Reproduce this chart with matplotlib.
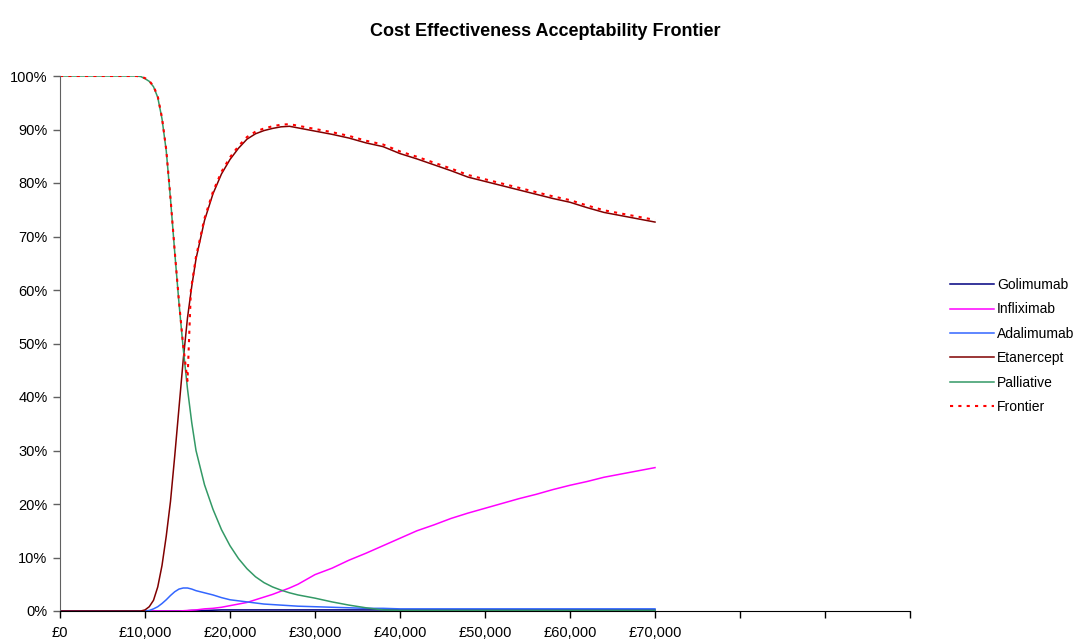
import matplotlib
matplotlib.use("Agg")
import matplotlib.pyplot as plt
from matplotlib.ticker import FuncFormatter

plt.rcParams['font.family'] = ['Liberation Sans', 'DejaVu Sans']

# Willingness-to-pay thresholds (£)
wtp = [0, 5000, 9000, 9500, 10000, 10500, 11000, 11500, 12000, 12500, 13000, 13500,
       14000, 14500, 15000, 15500, 16000, 17000, 18000, 19000, 20000, 21000, 22000,
       23000, 24000, 25000, 26000, 27000, 28000, 30000, 32000, 34000, 36000, 38000,
       40000, 42000, 44000, 46000, 48000, 50000, 52000, 54000, 56000, 58000, 60000,
       62000, 64000, 66000, 68000, 70000]

golimumab = [0, 0, 0, 0, 0, 0, 0, 0, 0, 0, 0, 0,
             0, 0, 0.0005, 0.001, 0.001, 0.001, 0.0015, 0.002, 0.002, 0.002, 0.002,
             0.002, 0.002, 0.002, 0.002, 0.002, 0.002, 0.002, 0.002, 0.002, 0.002, 0.002,
             0.002, 0.002, 0.002, 0.002, 0.002, 0.002, 0.002, 0.002, 0.002, 0.002, 0.002,
             0.002, 0.002, 0.002, 0.002, 0.002]

infliximab = [0, 0, 0, 0, 0, 0, 0, 0, 0, 0, 0, 0,
              0, 0.0005, 0.001, 0.0015, 0.002, 0.004, 0.005, 0.007, 0.010, 0.013, 0.016,
              0.021, 0.026, 0.031, 0.037, 0.043, 0.050, 0.068, 0.080, 0.095, 0.108, 0.122,
              0.136, 0.150, 0.161, 0.173, 0.183, 0.192, 0.201, 0.210, 0.218, 0.227, 0.235,
              0.242, 0.250, 0.256, 0.262, 0.268]

adalimumab = [0, 0, 0, 0, 0, 0.001, 0.004, 0.008, 0.014, 0.021, 0.029, 0.036,
              0.041, 0.043, 0.043, 0.041, 0.038, 0.034, 0.030, 0.025, 0.021, 0.019, 0.017,
              0.015, 0.013, 0.012, 0.011, 0.010, 0.009, 0.008, 0.007, 0.006, 0.005, 0.005,
              0.004, 0.004, 0.004, 0.004, 0.004, 0.004, 0.004, 0.004, 0.004, 0.004, 0.004,
              0.004, 0.004, 0.004, 0.004, 0.004]

etanercept = [0, 0, 0, 0, 0.002, 0.008, 0.020, 0.045, 0.085, 0.140, 0.205, 0.290,
              0.380, 0.470, 0.548, 0.607, 0.658, 0.730, 0.780, 0.817, 0.844, 0.865, 0.882,
              0.892, 0.898, 0.902, 0.905, 0.906, 0.903, 0.897, 0.891, 0.884, 0.875, 0.868,
              0.855, 0.845, 0.834, 0.823, 0.811, 0.803, 0.795, 0.787, 0.779, 0.771, 0.764,
              0.754, 0.745, 0.739, 0.733, 0.727]

palliative = [1.0, 1.0, 1.0, 0.999, 0.995, 0.990, 0.980, 0.960, 0.920, 0.860, 0.770, 0.670,
              0.575, 0.490, 0.415, 0.352, 0.300, 0.236, 0.190, 0.152, 0.122, 0.098, 0.079,
              0.064, 0.053, 0.045, 0.039, 0.034, 0.030, 0.024, 0.017, 0.011, 0.006, 0.002,
              0.001, 0.001, 0.001, 0.001, 0.001, 0.001, 0.001, 0.001, 0.001, 0.001, 0.001,
              0.001, 0.001, 0.001, 0.001, 0.001]

frontier_wtp = [0, 5000, 9000, 9500, 10000, 10500, 11000, 11500, 12000, 12500, 13000, 13500,
                14000, 14500, 15000, 15400, 16000, 17000, 18000, 19000, 20000, 21000, 22000,
                23000, 24000, 25000, 26000, 27000, 28000, 30000, 32000, 34000, 36000, 38000,
                40000, 42000, 44000, 46000, 48000, 50000, 52000, 54000, 56000, 58000, 60000,
                62000, 64000, 66000, 68000, 70000]
frontier = [1.0, 1.0, 1.0, 0.999, 0.996, 0.991, 0.981, 0.962, 0.922, 0.862, 0.772, 0.672,
            0.578, 0.495, 0.430, 0.600, 0.662, 0.734, 0.784, 0.821, 0.848, 0.869, 0.886,
            0.896, 0.902, 0.906, 0.909, 0.910, 0.907, 0.901, 0.895, 0.888, 0.879, 0.872,
            0.859, 0.849, 0.838, 0.827, 0.815, 0.807, 0.799, 0.791, 0.783, 0.775, 0.768,
            0.758, 0.749, 0.743, 0.737, 0.731]

series_names = ['Golimumab', 'Infliximab', 'Adalimumab', 'Etanercept', 'Palliative']
series_values = [golimumab, infliximab, adalimumab, etanercept, palliative]
series_colors = ['#000080', '#FF00FF', '#3366FF', '#800000', '#339966']

x_ticks = list(range(0, 100001, 10000))
x_labels = ['£0', '£10,000', '£20,000', '£30,000', '£40,000', '£50,000', '£60,000',
            '£70,000', '', '', '']
y_ticks = [i / 10 for i in range(11)]

W, H = 1078, 639
fig = plt.figure(figsize=(W / 100, H / 100), dpi=100)
ax = fig.add_axes([60 / W, 1 - 611 / H, 850 / W, 535 / H])

for name, vals, col in zip(series_names, series_values, series_colors):
    ax.plot(wtp, vals, color=col, lw=1.1, label=name, solid_joinstyle='round')
ax.plot(frontier_wtp, frontier, color='#FF0000', lw=1.5, linestyle=(0, (1.5, 2.5)),
        label='Frontier')

ax.set_xlim(0, 100000)
ax.set_ylim(0, 1)
ax.set_xticks(x_ticks)
ax.set_xticklabels(x_labels)
ax.set_yticks(y_ticks)
ax.yaxis.set_major_formatter(FuncFormatter(lambda v, p: f"{v*100:.0f}%"))
for s in ['top', 'right']:
    ax.spines[s].set_visible(False)
ax.spines['left'].set_color('#606060')
ax.spines['bottom'].set_color('black')
ax.tick_params(axis='both', direction='out', length=5, width=1, labelsize=10.5,
               colors='black')
ax.tick_params(axis='y', colors='#606060', labelcolor='black', pad=4)
ax.tick_params(axis='x', colors='black', pad=6)

fig.text(545 / W, 1 - 32 / H, 'Cost Effectiveness Acceptability Frontier',
         ha='center', va='center', fontsize=13, fontweight='bold')

leg = fig.legend(loc='center left', bbox_to_anchor=(950 / W, 1 - 346 / H),
                 frameon=False, fontsize=10, handlelength=3.2, handletextpad=0.2,
                 labelspacing=0.75, borderpad=0, borderaxespad=0)

fig.savefig('out.png', dpi=100)
